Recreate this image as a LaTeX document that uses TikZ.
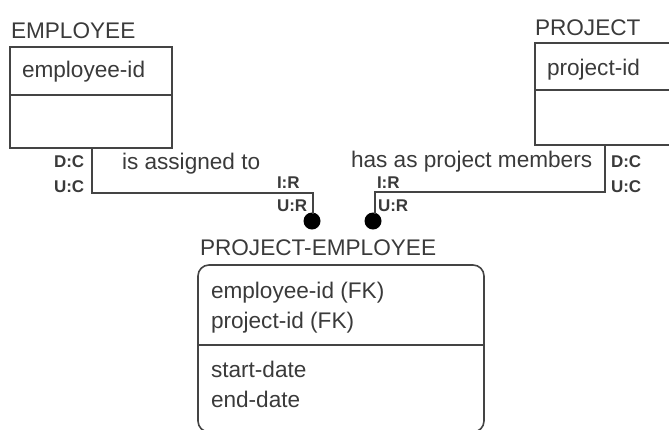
\documentclass[tikz,border=0pt]{standalone}
\usepackage{fontspec}
\setmainfont{Liberation Sans}
\begin{document}
\begin{tikzpicture}[x=1pt,y=-1pt,
  every node/.style={inner sep=0pt,outer sep=0pt,text=txt},
  lbl/.style={anchor=base west,font=\fontsize{22.6}{26}\selectfont},
  card/.style={anchor=base west,font=\bfseries\fontsize{17}{19}\selectfont},
  ent/.style={draw=ln,line width=1.6pt},
  rel/.style={draw=ln,line width=1.6pt},
  dotc/.style={circle,fill=black,minimum size=17pt}]
\definecolor{txt}{HTML}{3A3A3A}
\definecolor{ln}{HTML}{444444}
\useasboundingbox (0,0) rectangle (669,429);
\begin{scope}
\clip (0,0) rectangle (669,429);
% EMPLOYEE
\node[lbl] (empT) at (11,38) {EMPLOYEE};
\draw[ent] (10,47) rectangle (172,148);
\draw[ent] (10,95) -- (172,95);
\node[lbl] (empK) at (22,77) {employee-id};
% PROJECT
\node[lbl] (prjT) at (535,35) {PROJECT};
\draw[ent] (535,43) rectangle (690,145);
\draw[ent] (535,90) -- (690,90);
\node[lbl] (prjK) at (547,75) {project-id};
% PROJECT-EMPLOYEE
\node[lbl] (peT) at (200,255) {PROJECT-EMPLOYEE};
\draw[ent,rounded corners=11pt] (198,265) rectangle (484,432);
\draw[ent] (198,345) -- (484,345);
\node[lbl] (pe1) at (211,298) {employee-id (FK)};
\node[lbl] (pe2) at (211,328) {project-id (FK)};
\node[lbl] (pe3) at (211,377) {start-date};
\node[lbl] (pe4) at (211,407) {end-date};
% dots
\node[dotc] (d1) at (312,221) {};
\node[dotc] (d2) at (373,221) {};
\coordinate (e1) at (92,148);
\coordinate (p1) at (605,145);
% relationships
\draw[rel] (e1) |- (313,193) -- (313,214);
\draw[rel] (p1) |- (375,192) -- (375,214);
\node[lbl] (r1) at (122,169) {is assigned to};
\node[lbl] (r2) at (351,167) {has as project members};
\node[card] (c1) at (54,167) {D:C};
\node[card] (c2) at (54,192) {U:C};
\node[card] (c3) at (277,188) {I:R};
\node[card] (c4) at (277,211) {U:R};
\node[card] (c5) at (611,167) {D:C};
\node[card] (c6) at (611,192) {U:C};
\node[card] (c7) at (377,188) {I:R};
\node[card] (c8) at (378,211) {U:R};
\end{scope}
\end{tikzpicture}
\end{document}
